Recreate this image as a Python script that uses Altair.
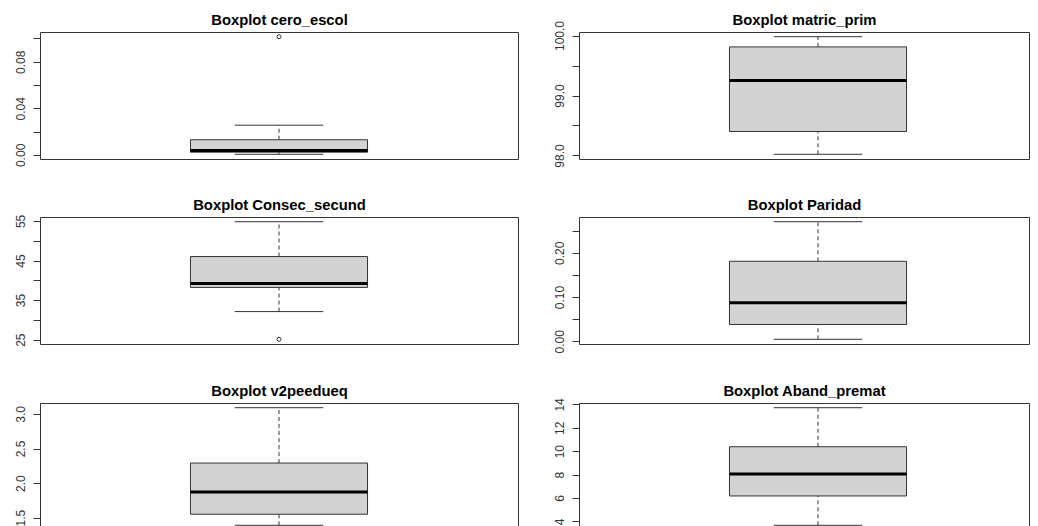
import altair as alt
import pandas as pd

# ---- data ----
names = ["cero_escol", "matric_prim", "Consec_secund", "Paridad", "v2peedueq", "Aband_premat"]
lower_whisker = [0.0005, 98.02, 32.1, 0.0045, 1.39, 3.66]
q1 = [0.0023, 98.40, 38.2, 0.038, 1.55, 6.17]
median = [0.0037, 99.25, 39.2, 0.087, 1.87, 8.05]
q3 = [0.013, 99.81, 46.0, 0.181, 2.29, 10.38]
upper_whisker = [0.0255, 99.98, 54.8, 0.2705, 3.09, 13.72]
outliers = [[0.1015], [], [25.1], [], [], []]

tick_values = [
    [0.0, 0.02, 0.04, 0.06, 0.08, 0.10],
    [98.0, 98.5, 99.0, 99.5, 100.0],
    [25, 30, 35, 40, 45, 50, 55],
    [0.0, 0.05, 0.10, 0.15, 0.20, 0.25],
    [1.0, 1.5, 2.0, 2.5, 3.0],
    [4, 6, 8, 10, 12, 14],
]
tick_labels = [
    ["0.00", "0.04", "0.08"],
    ["98.0", "99.0", "100.0"],
    ["25", "35", "45", "55"],
    ["0.00", "0.10", "0.20"],
    ["1.0", "1.5", "2.0", "2.5", "3.0"],
    ["4", "6", "8", "10", "12", "14"],
]
label_formats = [".2f", ".1f", "d", ".2f", ".1f", "d"]

# ---- style ----
W_LEFT, W_RIGHT = 478, 450
H = 127
PX_PER_X = 478 / 1.08
BOX_HALF = 0.2
CAP_HALF = 0.1
LINE = "#333333"
FONT = "Liberation Sans"


def panel(i):
    row, col = divmod(i, 2)
    lo_all = min([lower_whisker[i]] + outliers[i])
    hi_all = max([upper_whisker[i]] + outliers[i])
    ext = 0.04 * (hi_all - lo_all)
    top = hi_all + ext
    bottom = lo_all - ext
    yscale = alt.Scale(domain=[bottom, top], nice=False, zero=False)
    w = W_LEFT if col == 0 else W_RIGHT
    xscale = alt.Scale(domain=[0.46, 0.46 + w / PX_PER_X], nice=False, zero=False)
    vals = [v for v in tick_values[i] if bottom <= v <= top]
    labs = "[" + ",".join("'" + s + "'" for s in tick_labels[i]) + "]"
    fmt = label_formats[i]
    yaxis = alt.Axis(
        title=None, values=vals, grid=False, domain=False,
        labelExpr=f"indexof({labs}, format(datum.value, '{fmt}')) >= 0 ? format(datum.value, '{fmt}') : ''",
        labelAngle=270, labelAlign="center", labelBaseline="bottom",
        tickSize=7, tickColor=LINE, labelColor=LINE, labelFont=FONT,
        labelFontSize=12, labelPadding=6, labelOverlap=False,
    )
    # panel title drawn as a top x-axis title so it sits at a fixed distance from the frame
    xaxis = alt.Axis(
        orient="top", title=f"Boxplot {names[i]}", labels=False, ticks=False,
        domain=False, grid=False, titleFont=FONT, titleFontSize=14.8,
        titleFontWeight="bold", titleColor="black", titlePadding=5,
    )
    df = pd.DataFrame({
        "lo": [lower_whisker[i]], "q1": [q1[i]], "med": [median[i]],
        "q3": [q3[i]], "hi": [upper_whisker[i]],
        "xc": [1.0], "xl": [1 - BOX_HALF], "xr": [1 + BOX_HALF],
        "cl": [1 - CAP_HALF], "cr": [1 + CAP_HALF],
    })
    base = alt.Chart(df)

    def X(f):
        return alt.X(f"{f}:Q", scale=xscale, axis=xaxis)

    def Y(f):
        return alt.Y(f"{f}:Q", scale=yscale, axis=yaxis)

    w_hi = base.mark_rule(color=LINE, strokeDash=[4, 3], strokeWidth=1).encode(
        x=X("xc"), y=Y("q3"), y2="hi:Q")
    w_lo = base.mark_rule(color=LINE, strokeDash=[4, 3], strokeWidth=1).encode(
        x=X("xc"), y=Y("lo"), y2="q1:Q")
    cap_hi = base.mark_rule(color=LINE, strokeWidth=1).encode(x=X("cl"), x2="cr:Q", y=Y("hi"))
    cap_lo = base.mark_rule(color=LINE, strokeWidth=1).encode(x=X("cl"), x2="cr:Q", y=Y("lo"))
    box = base.mark_rect(fill="#D3D3D3", stroke=LINE, strokeWidth=1).encode(
        x=X("xl"), x2="xr:Q", y=Y("q1"), y2="q3:Q")
    med = base.mark_rule(color="black", strokeWidth=3).encode(
        x=X("xl"), x2="xr:Q", y=Y("med"))
    layers = [w_hi, w_lo, cap_hi, cap_lo, box, med]
    if outliers[i]:
        odf = pd.DataFrame({"v": outliers[i], "xc": [1.0] * len(outliers[i])})
        pts = alt.Chart(odf).mark_point(shape="circle", filled=False, size=16,
                                        strokeWidth=1, color=LINE, opacity=1).encode(
            x=X("xc"), y=Y("v"))
        layers.append(pts)
    return alt.layer(*layers).properties(width=w, height=H)


rows = [alt.hconcat(panel(2 * r), panel(2 * r + 1), spacing=33) for r in range(3)]
chart = alt.vconcat(*rows, spacing=28).configure_view(
    stroke=LINE, strokeWidth=1
).properties(background="white", padding={"left": 5, "top": 3, "right": 0, "bottom": 0})

chart.save("out.html", embed_options={"renderer": "svg", "actions": False})
